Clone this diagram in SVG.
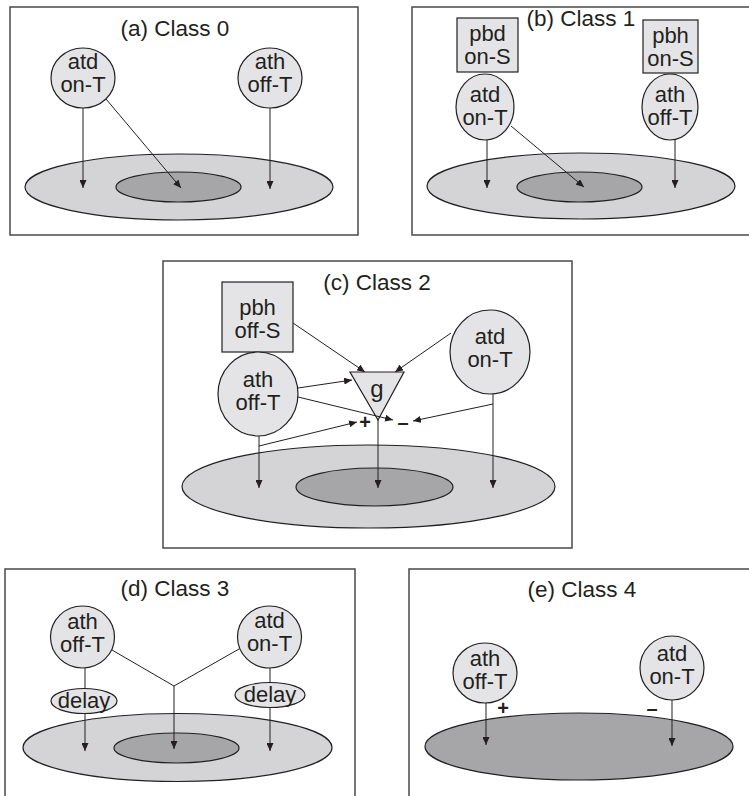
<svg xmlns="http://www.w3.org/2000/svg" width="749" height="796" viewBox="0 0 749 796">
  <defs>
    <marker id="arr" markerUnits="userSpaceOnUse" markerWidth="8" markerHeight="7" viewBox="0 0 8 7" refX="8" refY="3.5" orient="auto">
      <path d="M0,0 L8,3.5 L0,7 Z" fill="#231f20"/>
    </marker>
    <style>
      .panel { fill: #ffffff; stroke: #4a4a4a; stroke-width: 1.5; }
      .node { fill: #e4e4e6; stroke: #231f20; stroke-width: 1.2; }
      .outer { fill: #d4d4d6; stroke: #231f20; stroke-width: 1.2; }
      .inner { fill: #a6a6a9; stroke: #231f20; stroke-width: 1.2; }
      .conn { fill: none; stroke: #231f20; stroke-width: 1; }
      .arrow { marker-end: url(#arr); }
      text { font-family: "Liberation Sans", Arial, sans-serif; font-size: 22px; fill: #231f20; text-anchor: middle; }
      .title { font-size: 22.5px; }
      .sign { font-size: 20px; font-weight: bold; }
    </style>
  </defs>

  <!-- panel frames -->
  <g id="frames">
    <rect class="panel" x="10" y="7" width="348" height="228"/>
    <rect class="panel" x="412" y="7" width="350" height="228"/>
    <rect class="panel" x="163" y="261" width="409" height="287"/>
    <rect class="panel" x="5" y="569" width="350" height="240"/>
    <rect class="panel" x="409" y="569" width="350" height="240"/>
  </g>

  <!-- panel titles -->
  <g id="titles">
    <text class="title" x="175" y="36">(a) Class 0</text>
    <text class="title" x="581" y="26">(b) Class 1</text>
    <text class="title" x="377" y="290">(c) Class 2</text>
    <text class="title" x="175" y="596">(d) Class 3</text>
    <text class="title" x="582" y="597">(e) Class 4</text>
  </g>

  <!-- (a) Class 0 -->
  <g id="a-target">
    <ellipse class="outer" cx="179" cy="187" rx="154" ry="33"/>
    <ellipse class="inner" cx="178.5" cy="187" rx="62.5" ry="15"/>
  </g>
  <g id="a-atd">
    <ellipse class="node" cx="83" cy="78" rx="32" ry="30"/>
    <text x="83" y="69">atd</text>
    <text x="83" y="92">on-T</text>
  </g>
  <g id="a-ath">
    <ellipse class="node" cx="270" cy="78" rx="32" ry="30"/>
    <text x="270" y="69">ath</text>
    <text x="270" y="92">off-T</text>
  </g>

  <!-- (b) Class 1 -->
  <g id="b-target">
    <ellipse class="outer" cx="581" cy="186" rx="154" ry="33"/>
    <ellipse class="inner" cx="579.5" cy="187" rx="62.5" ry="15"/>
  </g>
  <g id="b-pbd">
    <rect class="node" x="457" y="18" width="61" height="54"/>
    <text x="487.5" y="41">pbd</text>
    <text x="487.5" y="64">on-S</text>
  </g>
  <g id="b-pbh">
    <rect class="node" x="643" y="20" width="55" height="53"/>
    <text x="670.5" y="43">pbh</text>
    <text x="670.5" y="66">on-S</text>
  </g>
  <g id="b-atd">
    <ellipse class="node" cx="485" cy="107" rx="29" ry="33"/>
    <text x="485" y="102">atd</text>
    <text x="485" y="125">on-T</text>
  </g>
  <g id="b-ath">
    <ellipse class="node" cx="670" cy="107" rx="28" ry="33"/>
    <text x="670" y="102">ath</text>
    <text x="670" y="125">off-T</text>
  </g>

  <!-- (c) Class 2 -->
  <g id="c-target">
    <ellipse class="outer" cx="368.5" cy="486.5" rx="186.5" ry="41.5"/>
    <ellipse class="inner" cx="374.5" cy="487" rx="78.5" ry="19"/>
  </g>
  <g id="c-pbh">
    <rect class="node" x="222" y="282" width="71" height="70"/>
    <text x="257.5" y="315">pbh</text>
    <text x="257.5" y="338">off-S</text>
  </g>
  <g id="c-ath">
    <ellipse class="node" cx="258" cy="394" rx="40" ry="42"/>
    <text x="258" y="387">ath</text>
    <text x="258" y="410">off-T</text>
  </g>
  <g id="c-atd">
    <ellipse class="node" cx="490" cy="352" rx="40" ry="42"/>
    <text x="490" y="344">atd</text>
    <text x="490" y="367">on-T</text>
  </g>
  <g id="c-g">
    <path class="node" d="M350,372 L404,372 L378,420 Z"/>
    <text x="377" y="397" style="font-size:24px">g</text>
  </g>
  <g id="c-signs">
    <text class="sign" x="365" y="429">+</text>
    <text class="sign" x="403" y="429">–</text>
  </g>

  <!-- (d) Class 3 -->
  <g id="d-target">
    <ellipse class="outer" cx="177.5" cy="747.5" rx="154.5" ry="34"/>
    <ellipse class="inner" cx="176.5" cy="748" rx="62.5" ry="15"/>
  </g>
  <g id="d-ath">
    <ellipse class="node" cx="82.5" cy="637" rx="32" ry="31"/>
    <text x="82.5" y="629">ath</text>
    <text x="82.5" y="652">off-T</text>
  </g>
  <g id="d-atd">
    <ellipse class="node" cx="269.5" cy="637" rx="32" ry="31"/>
    <text x="269.5" y="628">atd</text>
    <text x="269.5" y="651">on-T</text>
  </g>
  <g id="d-delay-left">
    <ellipse class="node" cx="84" cy="701" rx="33" ry="12.5"/>
    <text x="84" y="708">delay</text>
  </g>
  <g id="d-delay-right">
    <ellipse class="node" cx="270" cy="695" rx="35" ry="12.5"/>
    <text x="270" y="702">delay</text>
  </g>

  <!-- (e) Class 4 -->
  <g id="e-target">
    <ellipse class="inner" cx="579" cy="746.5" rx="154" ry="33.5"/>
  </g>
  <g id="e-ath">
    <ellipse class="node" cx="485" cy="673" rx="32" ry="30"/>
    <text x="485" y="666">ath</text>
    <text x="485" y="689">off-T</text>
  </g>
  <g id="e-atd">
    <ellipse class="node" cx="672" cy="668" rx="32" ry="32"/>
    <text x="672" y="661">atd</text>
    <text x="672" y="684">on-T</text>
  </g>
  <g id="e-signs">
    <text class="sign" x="503" y="715">+</text>
    <text class="sign" x="652" y="715">–</text>
  </g>

  <!-- connectors -->
  <g id="connectors">
    <!-- (a) -->
    <line class="conn arrow" x1="83" y1="108" x2="83" y2="188"/>
    <line class="conn arrow" x1="106" y1="99" x2="181" y2="188"/>
    <line class="conn arrow" x1="270" y1="108" x2="270" y2="189"/>
    <!-- (b) -->
    <line class="conn arrow" x1="487" y1="140" x2="487" y2="188"/>
    <line class="conn arrow" x1="511" y1="126" x2="584" y2="187"/>
    <line class="conn arrow" x1="675" y1="140" x2="675" y2="188"/>
    <!-- (c) -->
    <line class="conn arrow" x1="293" y1="323" x2="365" y2="372"/>
    <line class="conn arrow" x1="451" y1="333" x2="395" y2="372"/>
    <line class="conn arrow" x1="298" y1="388" x2="352" y2="380"/>
    <line class="conn arrow" x1="298" y1="397" x2="393" y2="420"/>
    <line class="conn" x1="493" y1="394" x2="493" y2="404"/>
    <line class="conn arrow" x1="493" y1="404" x2="493" y2="488"/>
    <line class="conn arrow" x1="493" y1="404" x2="413" y2="421"/>
    <line class="conn" x1="259" y1="436" x2="259" y2="446"/>
    <line class="conn arrow" x1="259" y1="446" x2="259" y2="488"/>
    <line class="conn arrow" x1="259" y1="446" x2="357" y2="422"/>
    <line class="conn arrow" x1="378" y1="420" x2="378" y2="488"/>
    <!-- (d) -->
    <line class="conn" x1="85" y1="668" x2="85" y2="688"/>
    <line class="conn arrow" x1="85" y1="714" x2="85" y2="751"/>
    <line class="conn" x1="270" y1="668" x2="270" y2="682"/>
    <line class="conn arrow" x1="270" y1="708" x2="270" y2="751"/>
    <polyline class="conn" points="112,650 174,686 239,649"/>
    <line class="conn arrow" x1="174" y1="686" x2="174" y2="749"/>
    <!-- (e) -->
    <line class="conn arrow" x1="486" y1="703" x2="486" y2="745"/>
    <line class="conn arrow" x1="672" y1="700" x2="672" y2="746"/>
  </g>
</svg>
